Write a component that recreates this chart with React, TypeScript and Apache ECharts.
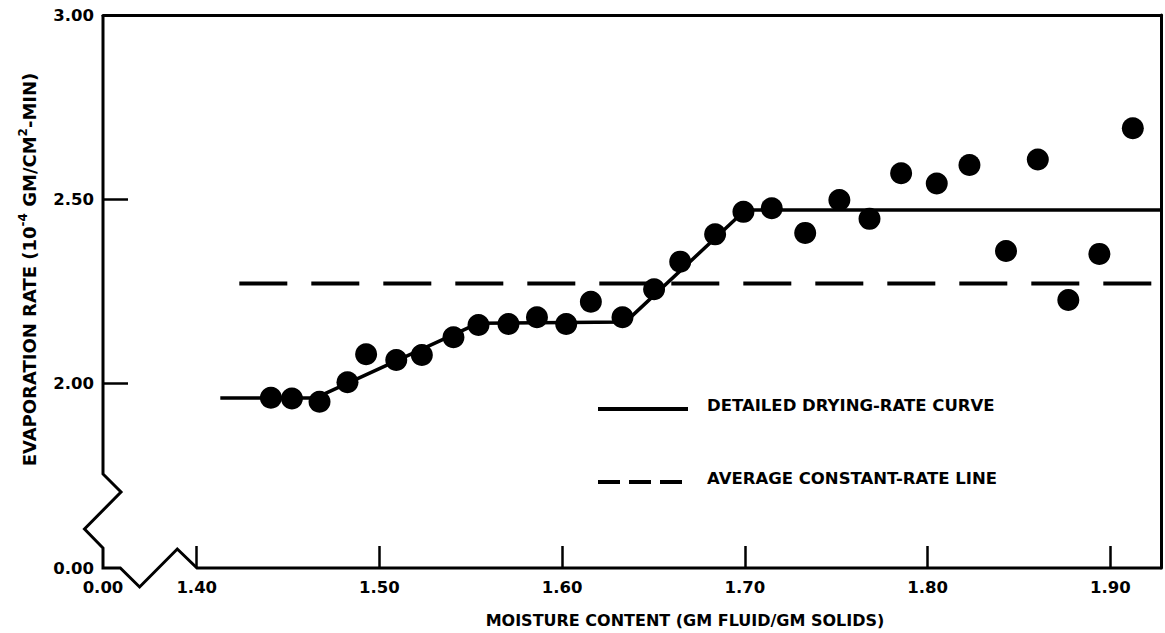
import React, { useEffect, useRef } from "react";
import * as echarts from "echarts";

// Axis ranges (bottom-left corner is a broken axis labelled 0.00)
const X_MIN = 1.3487;
const X_MAX = 1.928;
const Y_MIN = 1.5;
const Y_MAX = 3.0;
const xTickValues = [1.4, 1.5, 1.6, 1.7, 1.8, 1.9];
const xLabelValues = [X_MIN, 1.4, 1.5, 1.6, 1.7, 1.8, 1.9];
const yTickValues = [2.0, 2.5];
const yLabelValues = [1.5, 2.0, 2.5, 3.0];

// Measured points
const moisture = [
  1.4406, 1.4521, 1.4672, 1.4825, 1.4927, 1.5092, 1.5232, 1.5405, 1.5542, 1.5706,
  1.5862, 1.6022, 1.6157, 1.633, 1.6503, 1.6646, 1.6837, 1.6992, 1.7147, 1.733,
  1.7517, 1.7682, 1.7855, 1.805, 1.8229, 1.8429, 1.8603, 1.877, 1.894, 1.9123,
];
const rate = [
  1.962, 1.96, 1.951, 2.004, 2.08, 2.064, 2.078, 2.126, 2.159, 2.162,
  2.18, 2.162, 2.222, 2.18, 2.256, 2.331, 2.405, 2.466, 2.476, 2.409,
  2.498, 2.447, 2.571, 2.543, 2.593, 2.36, 2.608, 2.227, 2.352, 2.693,
];

// Detailed drying-rate curve
const curveX = [1.4129, 1.4648, 1.5542, 1.6346, 1.7002, 1.928];
const curveY = [1.961, 1.961, 2.164, 2.167, 2.471, 2.471];

// Average constant-rate line
const avgX = [1.4233, 1.928];
const avgRate = 2.272;

const FONT = "DejaVu Sans";
const BLACK = "#000";

export default function App() {
  const ref = useRef<HTMLDivElement>(null);

  useEffect(() => {
    if (!ref.current) return;
    const chart = echarts.init(ref.current, null, { renderer: "svg" });

    const labelStyle = {
      color: BLACK,
      fontFamily: FONT,
      fontWeight: "bold" as const,
      fontSize: 16.5,
    };

    const option: any = {
      animation: false,
      backgroundColor: "#fff",
      grid: { left: 103, right: 3.5, top: 15, bottom: 65, containLabel: false },
      xAxis: [
        {
          type: "value",
          min: X_MIN,
          max: X_MAX,
          axisLine: { show: false },
          splitLine: { show: false },
          axisTick: {
            show: true,
            inside: true,
            length: 22,
            customValues: xTickValues,
            lineStyle: { color: BLACK, width: 2.5 },
          },
          axisLabel: {
            ...labelStyle,
            margin: 11,
            showMinLabel: true,
            showMaxLabel: true,
            customValues: xLabelValues,
            formatter: (v: number) => (v < 1.39 ? "0.00" : v.toFixed(2)),
          },
        },
        {
          type: "value",
          position: "top",
          min: X_MIN,
          max: X_MAX,
          axisLine: { show: true, lineStyle: { color: BLACK, width: 3 } },
          axisTick: { show: false },
          axisLabel: { show: false },
          splitLine: { show: false },
        },
      ],
      yAxis: [
        {
          type: "value",
          min: Y_MIN,
          max: Y_MAX,
          axisLine: { show: false },
          splitLine: { show: false },
          axisTick: {
            show: true,
            inside: true,
            length: 25,
            customValues: yTickValues,
            lineStyle: { color: BLACK, width: 2.5 },
          },
          axisLabel: {
            ...labelStyle,
            margin: 9,
            showMinLabel: true,
            showMaxLabel: true,
            customValues: yLabelValues,
            formatter: (v: number) => (v < 1.6 ? "0.00" : v.toFixed(2)),
          },
          name: "{a|EVAPORATION RATE (10}{s|-4}{a| GM/CM}{s|2}{a|-MIN)}",
          nameLocation: "middle",
          nameRotate: 90,
          nameGap: 62,
          nameTextStyle: {
            padding: [0, 0, 0, 44],
            rich: {
              a: { fontFamily: FONT, fontWeight: "bold", fontSize: 18, color: BLACK, lineHeight: 24 },
              s: { fontFamily: FONT, fontWeight: "bold", fontSize: 12, color: BLACK, lineHeight: 12, verticalAlign: "top" },
            },
          },
        },
        {
          type: "value",
          position: "right",
          min: Y_MIN,
          max: Y_MAX,
          axisLine: { show: true, lineStyle: { color: BLACK, width: 3 } },
          axisTick: { show: false },
          axisLabel: { show: false },
          splitLine: { show: false },
        },
      ],
      series: [
        {
          name: "DETAILED DRYING-RATE CURVE",
          type: "line",
          xAxisIndex: 0,
          yAxisIndex: 0,
          data: curveX.map((x, i) => [x, curveY[i]]),
          showSymbol: false,
          symbol: "none",
          lineStyle: { color: BLACK, width: 3.5 },
          z: 2,
        },
        {
          name: "AVERAGE CONSTANT-RATE LINE",
          type: "line",
          xAxisIndex: 0,
          yAxisIndex: 0,
          data: avgX.map((x) => [x, avgRate]),
          showSymbol: false,
          symbol: "none",
          lineStyle: { color: BLACK, width: 4, type: [48, 24] },
          z: 2,
        },
        {
          name: "Measured",
          type: "scatter",
          xAxisIndex: 0,
          yAxisIndex: 0,
          data: moisture.map((x, i) => [x, rate[i]]),
          symbol: "circle",
          symbolSize: 22,
          itemStyle: { color: BLACK, opacity: 1 },
          z: 3,
        },
      ],
    };

    chart.setOption(option);

    const o = chart.convertToPixel({ xAxisIndex: 0, yAxisIndex: 0 }, [X_MIN, Y_MIN]) as number[];
    const t = chart.convertToPixel({ xAxisIndex: 0, yAxisIndex: 0 }, [X_MIN, Y_MAX]) as number[];
    const r = chart.convertToPixel({ xAxisIndex: 0, yAxisIndex: 0 }, [X_MAX, Y_MIN]) as number[];
    const ox = o[0];
    const oy = o[1];

    const brokenAxes = [
      [ox, t[1]],
      [ox, oy - 94],
      [ox + 18, oy - 76],
      [ox - 18.5, oy - 39],
      [ox, oy - 20],
      [ox, oy],
      [ox + 17.3, oy],
      [ox + 36.6, oy + 19],
      [ox + 74.3, oy - 19],
      [ox + 94, oy],
      [r[0], oy],
    ];

    chart.setOption({
      graphic: [
        {
          type: "polyline",
          shape: { points: brokenAxes },
          style: { stroke: BLACK, lineWidth: 3, fill: "none", lineJoin: "miter" },
          z: 10,
        },
        {
          type: "line",
          shape: { x1: 598, y1: 409, x2: 688, y2: 409 },
          style: { stroke: BLACK, lineWidth: 4 },
        },
        {
          type: "text",
          x: 707,
          y: 405,
          style: {
            text: "DETAILED DRYING-RATE CURVE",
            fill: BLACK,
            font: `bold 16.5px "${FONT}"`,
            verticalAlign: "middle",
          },
        },
        {
          type: "line",
          shape: { x1: 598, y1: 482, x2: 688, y2: 482 },
          style: { stroke: BLACK, lineWidth: 4, lineDash: [22, 9] },
        },
        {
          type: "text",
          x: 707,
          y: 478,
          style: {
            text: "AVERAGE CONSTANT-RATE LINE",
            fill: BLACK,
            font: `bold 16.5px "${FONT}"`,
            verticalAlign: "middle",
          },
        },
        {
          type: "text",
          x: 685,
          y: 620,
          style: {
            text: "MOISTURE CONTENT (GM FLUID/GM SOLIDS)",
            fill: BLACK,
            font: `bold 16px "${FONT}"`,
            align: "center",
            verticalAlign: "middle",
          },
        },
      ],
    });

    return () => chart.dispose();
  }, []);

  return (
    <div
      ref={ref}
      style={{ position: "fixed", left: 0, top: 0, width: 1165, height: 633, background: "#fff" }}
    />
  );
}
